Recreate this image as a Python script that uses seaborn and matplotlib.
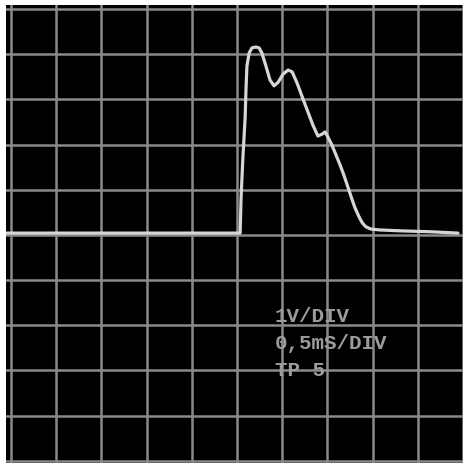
import matplotlib
matplotlib.use("Agg")
import matplotlib.pyplot as plt
import seaborn as sns
import pandas as pd

# Trace samples: time in divisions, voltage in divisions
time_div = [-0.11, 5.07, 5.09, 5.13, 5.18, 5.20, 5.22, 5.27, 5.33, 5.42, 5.49,
            5.55, 5.64, 5.73, 5.82, 5.91, 6.02, 6.13, 6.22, 6.33, 6.46, 6.57,
            6.68, 6.79, 6.88, 6.95, 7.01, 7.10, 7.19, 7.28, 7.37, 7.46, 7.54,
            7.61, 7.70, 7.77, 7.85, 7.96, 8.16, 8.61, 9.27, 9.89]
volt_div = [0.04, 0.04, 0.82, 1.70, 2.59, 3.25, 3.74, 4.03, 4.14, 4.16, 4.14,
            4.03, 3.74, 3.43, 3.30, 3.38, 3.56, 3.65, 3.61, 3.36, 3.01, 2.72,
            2.43, 2.19, 2.23, 2.28, 2.17, 1.99, 1.77, 1.55, 1.31, 1.04, 0.80,
            0.60, 0.40, 0.27, 0.18, 0.13, 0.11, 0.09, 0.07, 0.04]
readout = ["1V/DIV", "0,5mS/DIV", "TP 5"]

x_divs = list(range(0, 11))
y_divs = list(range(-5, 6))

df = pd.DataFrame({"t": time_div, "v": volt_div})

sns.set_theme(style="dark")
fig = plt.figure(figsize=(4.63, 4.64), dpi=100, facecolor="white")
ax = fig.add_axes([6 / 463, 0, 457 / 463, 458 / 464])
ax.set_facecolor("black")

sns.lineplot(data=df, x="t", y="v", ax=ax, sort=False, color="#d6d6d6",
             linewidth=2.3, zorder=3)

ax.set_xlim(-0.11, 10.0)
ax.set_ylim(-5.05, 5.09)
ax.set_xticks(x_divs)
ax.set_yticks(y_divs)
ax.grid(True, color="#8a8a8a", linewidth=1.8)
ax.set_axisbelow(True)
ax.tick_params(length=0, labelbottom=False, labelleft=False)
ax.set_xlabel("")
ax.set_ylabel("")
for s in ax.spines.values():
    s.set_visible(False)

for i, line in enumerate(readout):
    ax.text(5.84, -1.90 - 0.60 * i, line, family="Liberation Mono",
            fontsize=15, fontweight="bold", color="#9c9c9c",
            ha="left", va="baseline", zorder=2)

fig.savefig("out.png", dpi=100, facecolor="white")
